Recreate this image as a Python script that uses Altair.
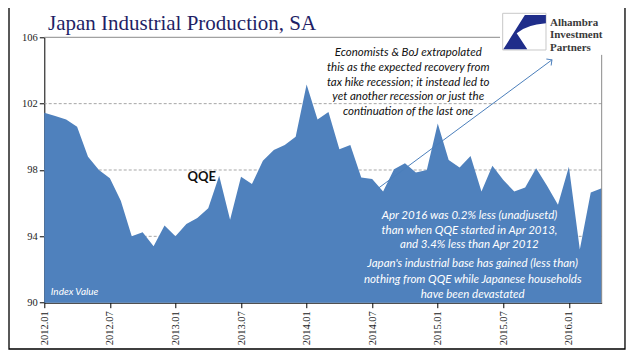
import altair as alt
import pandas as pd

# ---------------- data ----------------
values = [101.45, 101.25, 101.05, 100.6, 98.8, 98.0, 97.5, 96.15, 94.0, 94.25, 93.4, 94.65,
          94.0, 94.75, 95.1, 95.7, 97.65, 95.0, 97.6, 97.15, 98.55, 99.2, 99.5, 100.0,
          103.15, 101.05, 101.5, 99.25, 99.5, 97.55, 97.45, 96.7, 98.05, 98.4, 97.85, 98.0,
          100.8, 98.6, 98.15, 98.85, 96.7, 98.25, 97.4, 96.7, 96.95, 98.1, 97.05, 95.9,
          98.2, 93.2, 96.65, 96.9]
months = [f"{y}.{m:02d}" for y in range(2012, 2017) for m in range(1, 13)][:len(values)]
tick_labels = ["2012.01", "2012.07", "2013.01", "2013.07", "2014.01",
               "2014.07", "2015.01", "2015.07", "2016.01"]
y_ticks = [90, 94, 98, 102, 106]
grid_vals = [94, 98, 102]

title_text = "Japan Industrial Production, SA"
top_note = ["Economists & BoJ extrapolated",
            "this as the expected recovery from",
            "tax hike recession; it instead led to",
            "yet another recession or just the",
            "continuation of the last one"]
white_note1 = ["Apr 2016 was 0.2% less (unadjusetd)",
               "than when QQE started in Apr 2013,",
               "and 3.4% less than Apr 2012"]
white_note2 = ["Japan's industrial base has gained (less than)",
               "nothing from QQE while Japanese households",
               "have been devastated"]
logo_lines = ["Alhambra", "Investment", "Partners"]

# ---------------- layout ----------------
W, H = 557.4, 265.4
PL, PT = 36.3, 29.3
BLUE = "#4f81bd"
ARROW = "#4a7ebb"

n = len(values)
df = pd.DataFrame({"i": list(range(n)), "v": values, "month": months})
tick_pos = [months.index(t) for t in tick_labels]
label_js = "[" + ",".join(f"'{t}'" for t in tick_labels) + "]"

xscale = alt.Scale(domain=[0, n - 1], nice=False, zero=False)
yscale = alt.Scale(domain=[90, 106], nice=False, zero=False)
xaxis = alt.Axis(title=None, values=tick_pos, labelExpr=f"{label_js}[round(datum.value/6)]",
                 labelAngle=270, tickSize=5, labelPadding=3)
yaxis = alt.Axis(title=None, values=y_ticks, tickSize=5, labelPadding=2)
X = lambda f="i": alt.X(f"{f}:Q", scale=xscale, axis=xaxis)
Y = lambda f="v": alt.Y(f"{f}:Q", scale=yscale, axis=yaxis)

grid = alt.Chart(pd.DataFrame({"v": grid_vals})).mark_rule(
    color="#a6a6a6", strokeDash=[3, 2], strokeWidth=1).encode(y=Y())

area = alt.Chart(df).mark_area(color=BLUE, opacity=1).encode(
    x=X(), y=Y(), y2=alt.datum(90))

border_df = pd.DataFrame({"i": [0, n - 1], "i2": [41.7, n - 1], "v": [106, 90], "v2": [106, 104.94]})
border = alt.Chart(border_df).mark_rule(color="#8a8a8a", strokeWidth=1).encode(
    x=X(), x2="i2:Q", y=Y(), y2="v2:Q")

arrow_df = pd.DataFrame({"i": [30.6], "v": [96.92], "i2": [46.45], "v2": [104.64]})
arrow = alt.Chart(arrow_df).mark_rule(color=ARROW, strokeWidth=1).encode(
    x=X(), y=Y(), x2="i2:Q", y2="v2:Q")
head = alt.Chart(pd.DataFrame({"i": [46.45], "v": [104.64]})).mark_point(
    shape="M -1 1 L 0 0 L 1 1", filled=False, color=ARROW, strokeWidth=1, size=64,
    angle=53.5, opacity=1).encode(x=X(), y=Y())

top_df = pd.DataFrame({"t": top_note, "i": [33.3] * 5,
                       "v": [104.88, 103.98, 103.07, 102.2, 101.33]})
top_txt = alt.Chart(top_df).mark_text(font="Lato", fontSize=11.5, fontStyle="italic",
                                      color="#111111", align="center", baseline="alphabetic").encode(
    x=X(), y=Y(), text="t:N")

w1_df = pd.DataFrame({"t": white_note1, "i": [38.9] * 3, "v": [95.05, 94.14, 93.3]})
w2_df = pd.DataFrame({"t": white_note2, "i": [39.2] * 3, "v": [92.15, 91.19, 90.28]})
w_df = pd.concat([w1_df, w2_df])
w_txt = alt.Chart(w_df).mark_text(font="Lato", fontSize=11.5, fontStyle="italic",
                                  color="white", align="center", baseline="alphabetic").encode(
    x=X(), y=Y(), text="t:N")

qqe = alt.Chart(pd.DataFrame({"t": ["QQE"], "i": [14.4], "v": [97.34]})).mark_text(
    font="Lato", fontSize=13, fontWeight="bold", color="#111111", align="center",
    baseline="alphabetic").encode(x=X(), y=Y(), text="t:N")

idx = alt.Chart(pd.DataFrame({"t": ["Index Value"], "i": [0.59], "v": [90.46]})).mark_text(
    font="Lato", fontSize=10, fontStyle="italic", color="white", align="left",
    baseline="alphabetic").encode(x=X(), y=Y(), text="t:N")

one = pd.DataFrame({"a": [0]})
title = alt.Chart(one).mark_text(text=title_text, font="Liberation Serif", fontSize=21,
                                 color="#1f1f66", align="left", baseline="alphabetic").encode(
    x=alt.value(3.7), y=alt.value(-7.3))

logo_box = alt.Chart(one).mark_rect(fill="white", stroke="#c8c8c8", strokeWidth=1).encode(
    x=alt.value(458.4), x2=alt.value(501.7), y=alt.value(-24), y2=alt.value(12.7))
logo_shape = alt.Chart(one).mark_point(
    shape="M 0.03 -0.83 L 1.08 -0.83 L 1.08 -0.42 Q 0.1 -0.35 -0.38 0.08 Q -0.1 0.5 0.15 0.88 L -1.05 0.88 Z",
    filled=True, color="#1f2d8a", size=1600, opacity=1, strokeWidth=0).encode(
    x=alt.value(480), y=alt.value(-5.6))
logo_df = pd.DataFrame({"t": logo_lines, "y": [-11.3, 1.2, 13.7]})
logo_txt = alt.Chart(logo_df).mark_text(font="Liberation Serif", fontSize=11, fontWeight="bold",
                                        color="#3a3a3a", align="left", baseline="alphabetic").encode(
    x=alt.value(505.7), y=alt.Y("y:Q", scale=None), text="t:N")

frame = alt.Chart(one).mark_rect(fill="white", fillOpacity=0, stroke="black", strokeWidth=1.3).encode(
    x=alt.value(-35.3), x2=alt.value(580.7), y=alt.value(-30.3), y2=alt.value(311.7))

chart = alt.layer(grid, area, border, arrow, head, top_txt, w_txt, qqe, idx, title,
                  logo_box, logo_shape, logo_txt, frame).properties(
    width=W, height=H,
    padding={"left": PL, "top": PT, "right": 25, "bottom": 48},
    autosize=alt.AutoSizeParams(type="none"),
    background="white",
).configure_view(strokeOpacity=0).configure_axis(
    domainColor="black", tickColor="black", labelColor="#222222",
    labelFont="Liberation Serif", labelFontSize=10.5, grid=False, domainWidth=1)

chart.save("out.html", embed_options={"renderer": "svg", "actions": False})
